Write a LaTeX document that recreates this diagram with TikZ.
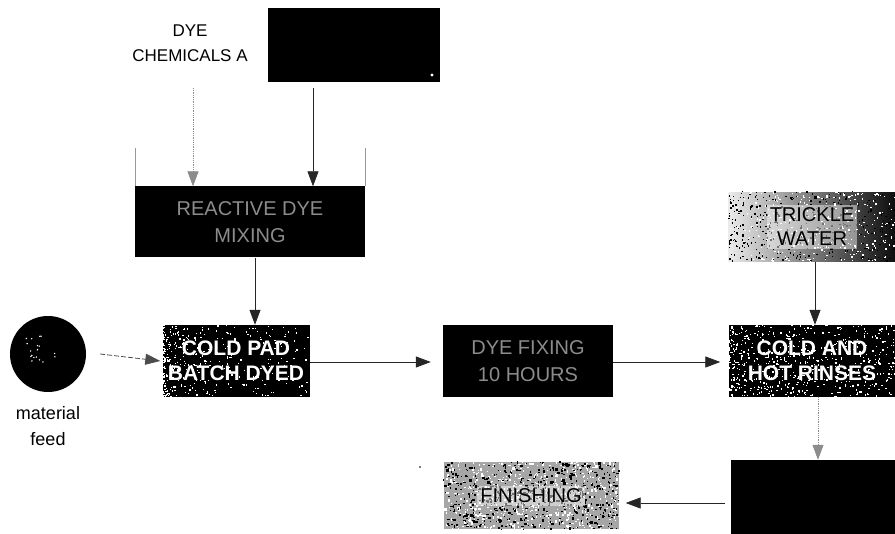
\documentclass[tikz,border=0pt]{standalone}
\usepackage{fontspec}
\setmainfont{Liberation Sans}
\usetikzlibrary{arrows.meta,calc}

% scatter random specks over a node: node, count, colour, max size, x-bias exponent
\newcommand\specks[5]{%
  \foreach \k in {1,...,#2}{%
    \fill[#3] let \p1=(#1.south west), \p2=(#1.north east) in
      ({\x1+(rnd^#5)*(\x2-\x1)},{\y1+rnd*(\y2-\y1)})
      rectangle ++({0.4pt+rnd*#4},{0.4pt+rnd*#4});}}

\tikzset{
  blk/.style={draw=none, fill=black, minimum width=#1, inner sep=0pt},
  boxtxt/.style={text=white, font=\fontsize{21}{25}\selectfont\bfseries, align=center},
  faint/.style={text=black!45, font=\fontsize{20}{27}\selectfont, align=center},
  grain/.style={font=\fontsize{20}{24}\selectfont, align=center, fill=white,
                fill opacity=0.45, text opacity=1, inner sep=3pt},
  flow/.style={draw=black!85, line width=0.8pt, -{Triangle[length=15pt,width=11pt]}},
  dotflow/.style={flow, draw=black!45, densely dotted},
  dashflow/.style={flow, draw=black!70, dash pattern=on 5pt off 2pt},
  label/.style={font=\fontsize{17}{25}\selectfont, align=center}
}

\begin{document}
\begin{tikzpicture}[x=1pt, y=-1pt]
\useasboundingbox (0,0) rectangle (895,534);
\pgfmathsetseed{7}

% source and chemicals
\node[label] (chem) at (190,43) {DYE\\CHEMICALS A};
\node[blk=172pt, minimum height=74pt] (top) at (354,45) {};
\fill[white] (432,75) circle (1.6pt);

% mixing stage with its open bracket sides
\node[blk=230pt, minimum height=71pt, faint] (mix) at (250,222) {REACTIVE DYE\\MIXING};
\draw[black!40, line width=0.5pt] (mix.north west) -- ++(0,-38);
\draw[black!40, line width=0.5pt] (mix.north east) -- ++(0,-38);

% cold pad batch
\node[blk=147pt, minimum height=72pt] (pad) at (236,361) {};
\specks{pad}{380}{white}{1.6pt}{2.4}
\node[boxtxt] (padtxt) at (pad) {COLD PAD\\BATCH DYED};

% material feed
\node[circle, fill=black, minimum size=76pt, inner sep=0pt] (feed) at (48,354) {};
\foreach \k in {1,...,18}{\fill[white] ($(feed.center)+({-22+rnd*30},{-18+rnd*26})$) circle (0.8pt);}
\node[label, font=\fontsize{18}{26}\selectfont] (feedlbl) at (48,426) {material\\feed};

% fixing
\node[blk=170pt, minimum height=72pt, faint] (fix) at (528,361) {DYE FIXING\\10 HOURS};

% trickle water
\node[minimum width=167pt, minimum height=69pt, inner sep=0pt,
      left color=black!8, right color=black!95] (trickle) at (812,227) {};
\specks{trickle}{300}{white}{1.8pt}{0.8}
\specks{trickle}{350}{black}{1.8pt}{1.4}
\node[grain] (tricktxt) at (trickle) {TRICKLE\\WATER};

% rinses
\node[blk=167pt, minimum height=72pt] (rinse) at (812,361) {};
\specks{rinse}{600}{white}{1.7pt}{1.3}
\node[boxtxt] (rinsetxt) at (rinse) {COLD AND\\HOT RINSES};

% dryer
\node[blk=165pt, minimum height=74pt] (dry) at (813,497) {};

% finishing
\node[minimum width=175pt, minimum height=67pt, inner sep=0pt, fill=black!35] (fin) at (531,496) {};
\specks{fin}{550}{white}{2.2pt}{1}
\specks{fin}{550}{black}{2.4pt}{1}
\node[grain] (fintxt) at (fin) {FINISHING};
\fill[black!70] (420,467) circle (1.2pt);

% connectors
\coordinate (c1) at (193,88);
\coordinate (c2) at (313,88);
\draw[dotflow] (c1) -- (c1 |- mix.north);
\draw[flow] (c2) -- (c2 |- mix.north);
\coordinate (m1) at ($(mix.south)+(5,0)$);
\draw[flow] (m1) -- (m1 |- pad.north);
\draw[dashflow] ($(feed.east)+(14,0)$) -- ($(pad.west)+(-2,0)$);
\draw[flow] (pad.east |- 0,362) -- ($(fix.west |- 0,362)+(-12,0)$);
\draw[flow] (fix.east |- 0,362) -- ($(rinse.west |- 0,362)+(-8,0)$);
\coordinate (t1) at ($(trickle.south)+(3,0)$);
\draw[flow] (t1) -- (t1 |- rinse.north);
\coordinate (r1) at ($(rinse.south)+(6,0)$);
\draw[dotflow] (r1) -- (r1 |- dry.north);
\draw[flow] ($(dry.west |- 0,503)+(-5,0)$) -- ($(fin.east |- 0,503)+(7,0)$);
\end{tikzpicture}
\end{document}
